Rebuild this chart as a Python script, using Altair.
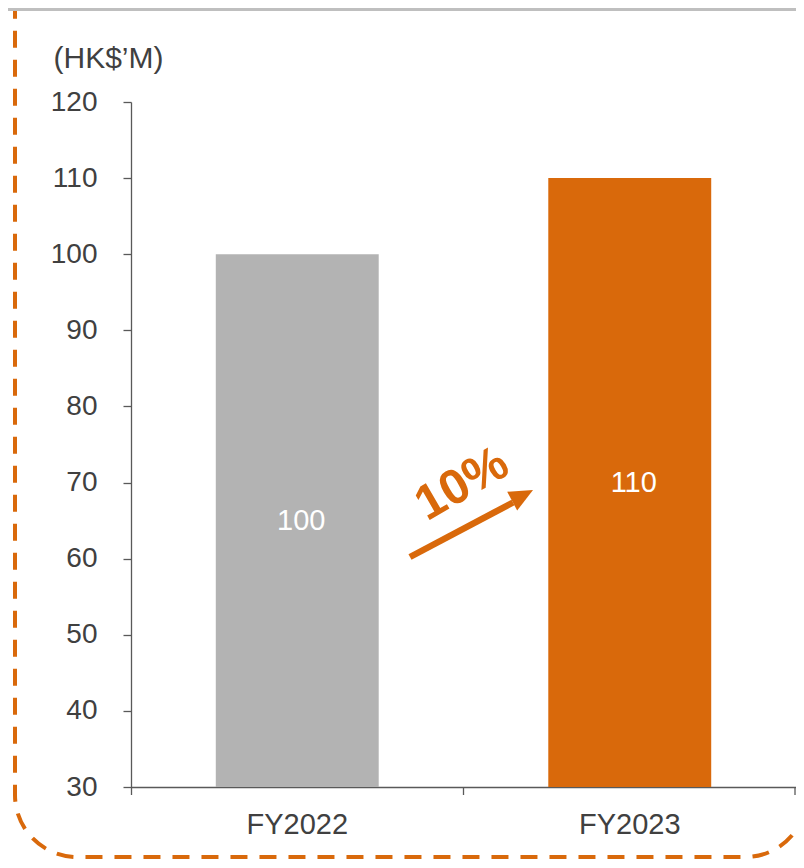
import altair as alt
import pandas as pd

# ---- data ----
categories = ["FY2022", "FY2023"]
values = [100, 110]
bar_colors = ["#B3B3B3", "#D9690B"]
y_ticks = [30, 40, 50, 60, 70, 80, 90, 100, 110, 120]
y_domain = [30, 120]
unit_label = "(HK$’M)"
growth_label = ["10%"]

ORANGE = "#D9690B"
TEXT = "#404040"
AXIS = "#595959"
FONT = "Liberation Sans"

W, H = 665, 685

df = pd.DataFrame({"year": categories, "value": values, "color": bar_colors})
one = pd.DataFrame({"label": growth_label})

x_enc = alt.X(
    "year:N",
    sort=categories,
    scale=alt.Scale(paddingInner=0.51, paddingOuter=0.255),
    axis=alt.Axis(
        title=None, ticks=False, labelAngle=0, labelFontSize=29, labelFont=FONT,
        labelColor=TEXT, labelPadding=23, domainColor=AXIS, domainWidth=1.3,
    ),
)
y_enc = alt.Y(
    "value:Q",
    scale=alt.Scale(domain=y_domain, zero=False, nice=False),
    axis=alt.Axis(
        values=y_ticks, grid=False, tickSize=8, tickColor=AXIS, tickWidth=1.3,
        domainColor=AXIS, domainWidth=1.3, labelFontSize=28, labelFont=FONT,
        labelColor=TEXT, labelPadding=26,
        title=unit_label, titleAngle=0, titleX=-78, titleY=-44, titleAlign="left",
        titleBaseline="middle", titleFontSize=30, titleFont=FONT,
        titleFontWeight="normal", titleColor=TEXT,
    ),
)

base = alt.Chart(df)

bars = base.mark_bar().encode(
    x=x_enc, y=y_enc, y2=alt.datum(y_domain[0]),
    color=alt.Color("color:N", scale=None),
)

bar_labels = base.transform_calculate(
    mid=f"(datum.value + {y_domain[0]}) / 2"
).mark_text(color="white", fontSize=29, font=FONT, baseline="middle", dx=4).encode(
    x=alt.X("year:N", sort=categories), y="mid:Q", text="value:Q"
)

ann = alt.Chart(one)

# x-axis ticks at band boundaries
xticks = [
    ann.mark_rule(color=AXIS, strokeWidth=1.3).encode(
        x=alt.value(px), y=alt.value(H), y2=alt.value(H + 8)
    )
    for px in (0.5, W / 2, W - 1)
]

shaft = ann.mark_rule(color=ORANGE, strokeWidth=6.5).encode(
    x=alt.value(279), y=alt.value(455), x2=alt.value(382), y2=alt.value(400.5)
)
head = ann.mark_point(
    shape="M0,-1L0.9,1L-0.9,1Z", filled=True, size=557, angle=62,
    color=ORANGE, opacity=1, strokeWidth=0,
).encode(x=alt.value(391.6), y=alt.value(393.6))
growth = ann.mark_text(
    angle=330, fontSize=49, fontWeight="bold", font=FONT, color=ORANGE,
    baseline="middle", align="center",
).encode(x=alt.value(331), y=alt.value(382), text="label:N")

border = ann.mark_rect(
    fill="white", fillOpacity=0, stroke=ORANGE, strokeWidth=4,
    strokeDash=[17, 12], cornerRadius=62,
).encode(x=alt.value(-116), x2=alt.value(676), y=alt.value(-300), y2=alt.value(755))

top_line = ann.mark_rule(color="#BFBFBF", strokeWidth=3).encode(
    x=alt.value(-130), x2=alt.value(680), y=alt.value(-92.5)
)

chart = alt.layer(
    border, top_line, bars, bar_labels, *xticks, shaft, head, growth
).properties(
    width=W, height=H,
    autosize=alt.AutoSizeParams(type="none"),
    padding={"left": 123, "top": 94, "right": 0, "bottom": 73},
    background="white",
).configure_view(stroke=None)

chart.save("out.html", embed_options={"renderer": "svg", "actions": False})
